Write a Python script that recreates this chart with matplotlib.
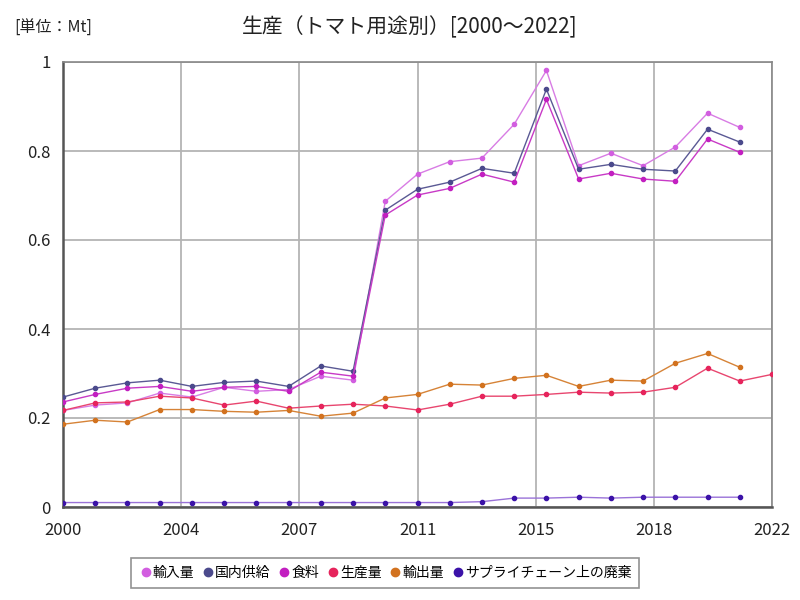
"""
Tomato production by use, 2000-2022 (Mt)
"""
import matplotlib
matplotlib.use("Agg")
import matplotlib.pyplot as plt
from matplotlib.lines import Line2D
import numpy as np

plt.rcParams['font.family'] = ['Noto Sans CJK JP', 'DejaVu Sans']

years = list(range(2000, 2022))
years_prod = list(range(2000, 2023))

imports = [0.217, 0.229, 0.234, 0.256, 0.247, 0.269, 0.260, 0.264, 0.294, 0.285,
           0.687, 0.748, 0.776, 0.784, 0.860, 0.981, 0.767, 0.795, 0.767, 0.809,
           0.885, 0.853]
domestic = [0.247, 0.267, 0.279, 0.285, 0.271, 0.280, 0.283, 0.271, 0.317, 0.305,
            0.667, 0.714, 0.730, 0.761, 0.750, 0.939, 0.759, 0.770, 0.759, 0.755,
            0.849, 0.820]
food = [0.236, 0.253, 0.267, 0.271, 0.260, 0.269, 0.271, 0.260, 0.303, 0.294,
        0.656, 0.701, 0.716, 0.748, 0.730, 0.916, 0.737, 0.750, 0.737, 0.732,
        0.827, 0.797]
production = [0.217, 0.234, 0.236, 0.249, 0.245, 0.229, 0.238, 0.222, 0.227, 0.231,
              0.227, 0.218, 0.231, 0.249, 0.249, 0.253, 0.258, 0.256, 0.258, 0.269,
              0.312, 0.283, 0.298]
exports = [0.186, 0.195, 0.191, 0.219, 0.219, 0.215, 0.213, 0.217, 0.204, 0.211,
           0.245, 0.253, 0.276, 0.274, 0.289, 0.296, 0.271, 0.285, 0.283, 0.323,
           0.345, 0.314]
waste = [0.010, 0.010, 0.010, 0.010, 0.010, 0.010, 0.010, 0.010, 0.010, 0.010,
         0.010, 0.010, 0.010, 0.012, 0.020, 0.020, 0.022, 0.020, 0.022, 0.022,
         0.022, 0.022]

labels = ["輸入量", "国内供給", "食料", "生産量", "輸出量", "サプライチェーン上の廃棄"]
colors = ["#d25ee0", "#4b4a8c", "#c21fc0", "#e6245c", "#d2721f", "#3b12a8"]
line_colors = ["#d87ce4", "#5a5994", "#c83ac6", "#e8466f", "#d68337", "#9a72d8"]

series = [(years, imports), (years, domestic), (years, food),
          (years_prod, production), (years, exports), (years, waste)]

fig = plt.figure(figsize=(8, 6), dpi=100)
ax = fig.add_axes([63 / 800, 1 - 507 / 600, 709 / 800, 445 / 600])

for (x, y), c, lc in zip(series, colors, line_colors):
    ax.plot(x, y, color=lc, linewidth=1.0, marker="o", markersize=3,
            markerfacecolor=c, markeredgecolor=c, zorder=3)

ax.set_xlim(2000, 2022)
ax.set_ylim(0, 1)
xt = np.linspace(2000, 2022, 7)
ax.set_xticks(xt)
ax.set_xticklabels([str(int(round(t))) for t in xt])
ax.set_yticks([0, 0.2, 0.4, 0.6, 0.8, 1])
ax.set_yticklabels(["0", "0.2", "0.4", "0.6", "0.8", "1"])
ax.tick_params(length=0, labelsize=12, colors="#222222")
ax.tick_params(axis="x", pad=11)
ax.tick_params(axis="y", pad=9)
ax.grid(True, color="#b4b4b4", linewidth=1.3)
ax.set_axisbelow(True)
for s in ax.spines.values():
    s.set_color("#888888")
    s.set_linewidth(1.2)
ax.spines["left"].set_color("#555555")
ax.spines["bottom"].set_color("#555555")
ax.spines["left"].set_linewidth(1.8)
ax.spines["bottom"].set_linewidth(1.8)

fig.text(410 / 800, 1 - 27 / 600, "生産（トマト用途別）[2000～2022]",
         ha="center", va="center", fontsize=15, color="#222222")
fig.text(14 / 800, 1 - 28 / 600, "[単位：Mt]", ha="left", va="center",
         fontsize=11.5, color="#222222")

handles = [Line2D([], [], linestyle="none", marker="o", markersize=6,
                  markerfacecolor=c, markeredgecolor=c) for c in colors]
leg = fig.legend(handles, labels, loc="center", bbox_to_anchor=(385 / 800, 1 - 573 / 600),
                 ncol=6, fontsize=10, frameon=True, fancybox=False,
                 handletextpad=0.0, columnspacing=0.5, handlelength=1.0,
                 borderpad=0.55)
leg.get_frame().set_edgecolor("#777777")
leg.get_frame().set_linewidth(1.2)

fig.savefig("out.png", dpi=100)
